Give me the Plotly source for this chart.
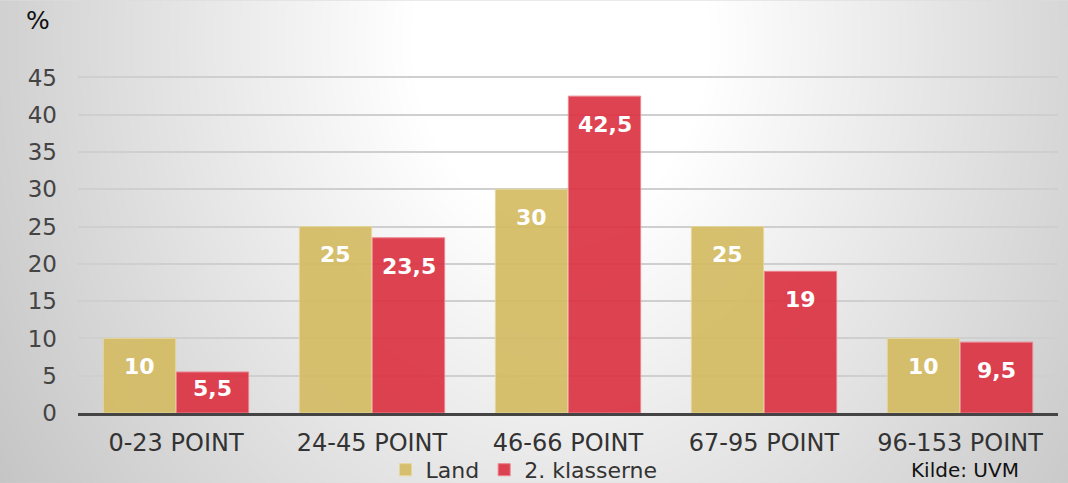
import base64, struct, zlib
import numpy as np
import plotly.graph_objects as go

categories = ["0-23 POINT", "24-45 POINT", "46-66 POINT", "67-95 POINT", "96-153 POINT"]
land = [10, 25, 30, 25, 10]
klasser = [5.5, 23.5, 42.5, 19, 9.5]
land_labels = ["10", "25", "30", "25", "10"]
klasser_labels = ["5,5", "23,5", "42,5", "19", "9,5"]
y_ticks = [0, 5, 10, 15, 20, 25, 30, 35, 40, 45]

W, H = 1068, 483
ML, MR, MT, MB = 78, 10, 75.5, 70
FONT = "DejaVu Sans"
LAND_C = "#D4BC64"
RED_C = "#DC3545"

# radial gradient background as PNG data URI
yy, xx = np.mgrid[0:H, 0:W].astype(float)
dx = xx - 560.0
dy = (yy - 40.0) * 0.807
r = np.sqrt(dx * dx + dy * dy)
dark = np.clip(0.112 * (r - 150.0), 0, 90)
g = np.clip(255 - dark, 0, 255).astype(np.uint8)
raw = b"".join(b"\x00" + g[i].tobytes() for i in range(H))
def chunk(t, d):
    c = struct.pack(">I", len(d)) + t + d
    return c + struct.pack(">I", zlib.crc32(t + d) & 0xffffffff)
png = b"\x89PNG\r\n\x1a\n" + chunk(b"IHDR", struct.pack(">IIBBBBB", W, H, 8, 0, 0, 0, 0)) \
      + chunk(b"IDAT", zlib.compress(raw, 9)) + chunk(b"IEND", b"")
uri = "data:image/png;base64," + base64.b64encode(png).decode()

pw, ph = W - ML - MR, H - MT - MB
def px(xp): return (xp - ML) / pw
def py(yp): return 1 - (yp - MT) / ph

fig = go.Figure()
fig.add_trace(go.Bar(x=categories, y=land, name="Land", marker=dict(color=LAND_C, line=dict(color="#E6D795", width=1)), opacity=0.93))
fig.add_trace(go.Bar(x=categories, y=klasser, name="2. klasserne", marker=dict(color=RED_C, line=dict(color="#EC7C86", width=1)), opacity=0.93))

off = 0.187
for i in range(len(categories)):
    for vals, labs, sgn in ((land, land_labels, -1), (klasser, klasser_labels, 1)):
        v = vals[i]
        fig.add_annotation(x=i + sgn * off, y=max(v - 3.8, v * 0.6), text=labs[i], showarrow=False,
                           xref="x", yref="y", xanchor="center", yanchor="middle",
                           font=dict(family=FONT, size=22, color="white", weight="bold"))

fig.add_annotation(x=px(38), y=py(20), xref="paper", yref="paper", text="%", showarrow=False,
                   xanchor="center", yanchor="middle", font=dict(family=FONT, size=25, color="#111"))
fig.add_annotation(x=px(965), y=py(470), xref="paper", yref="paper", xanchor="center", yanchor="middle",
                   text="Kilde: UVM", showarrow=False, font=dict(family=FONT, size=20, color="#111"))

fig.add_layout_image(dict(source=uri, xref="paper", yref="paper", x=px(0), y=py(0),
                          sizex=W / pw, sizey=H / ph, sizing="stretch", layer="below", xanchor="left", yanchor="top"))

fig.update_layout(
    width=W, height=H, margin=dict(l=ML, r=MR, t=MT, b=MB, autoexpand=False),
    paper_bgcolor="#dddddd", plot_bgcolor="rgba(0,0,0,0)",
    barmode="group", bargap=0.255, bargroupgap=0.01,
    font=dict(family=FONT, color="#333"),
    legend=dict(orientation="h", x=px(524), xanchor="center", y=py(470), yanchor="middle",
                font=dict(family=FONT, size=22, color="#333"), bgcolor="rgba(0,0,0,0)", itemwidth=30,
                tracegroupgap=0),
    xaxis=dict(showline=True, linecolor="#444", linewidth=3, tickfont=dict(family=FONT, size=24, color="#333"),
               ticks="", ticklabelstandoff=6),
    yaxis=dict(range=[0, 45.2], tickvals=y_ticks, showgrid=True, gridcolor="#cfcfcf", gridwidth=1.5,
               zeroline=False, tickfont=dict(family=FONT, size=23, color="#444"), ticklabelstandoff=20),
)
fig.write_html("out.html", config={"displayModeBar": False}, post_script="document.body.style.margin='0';")
